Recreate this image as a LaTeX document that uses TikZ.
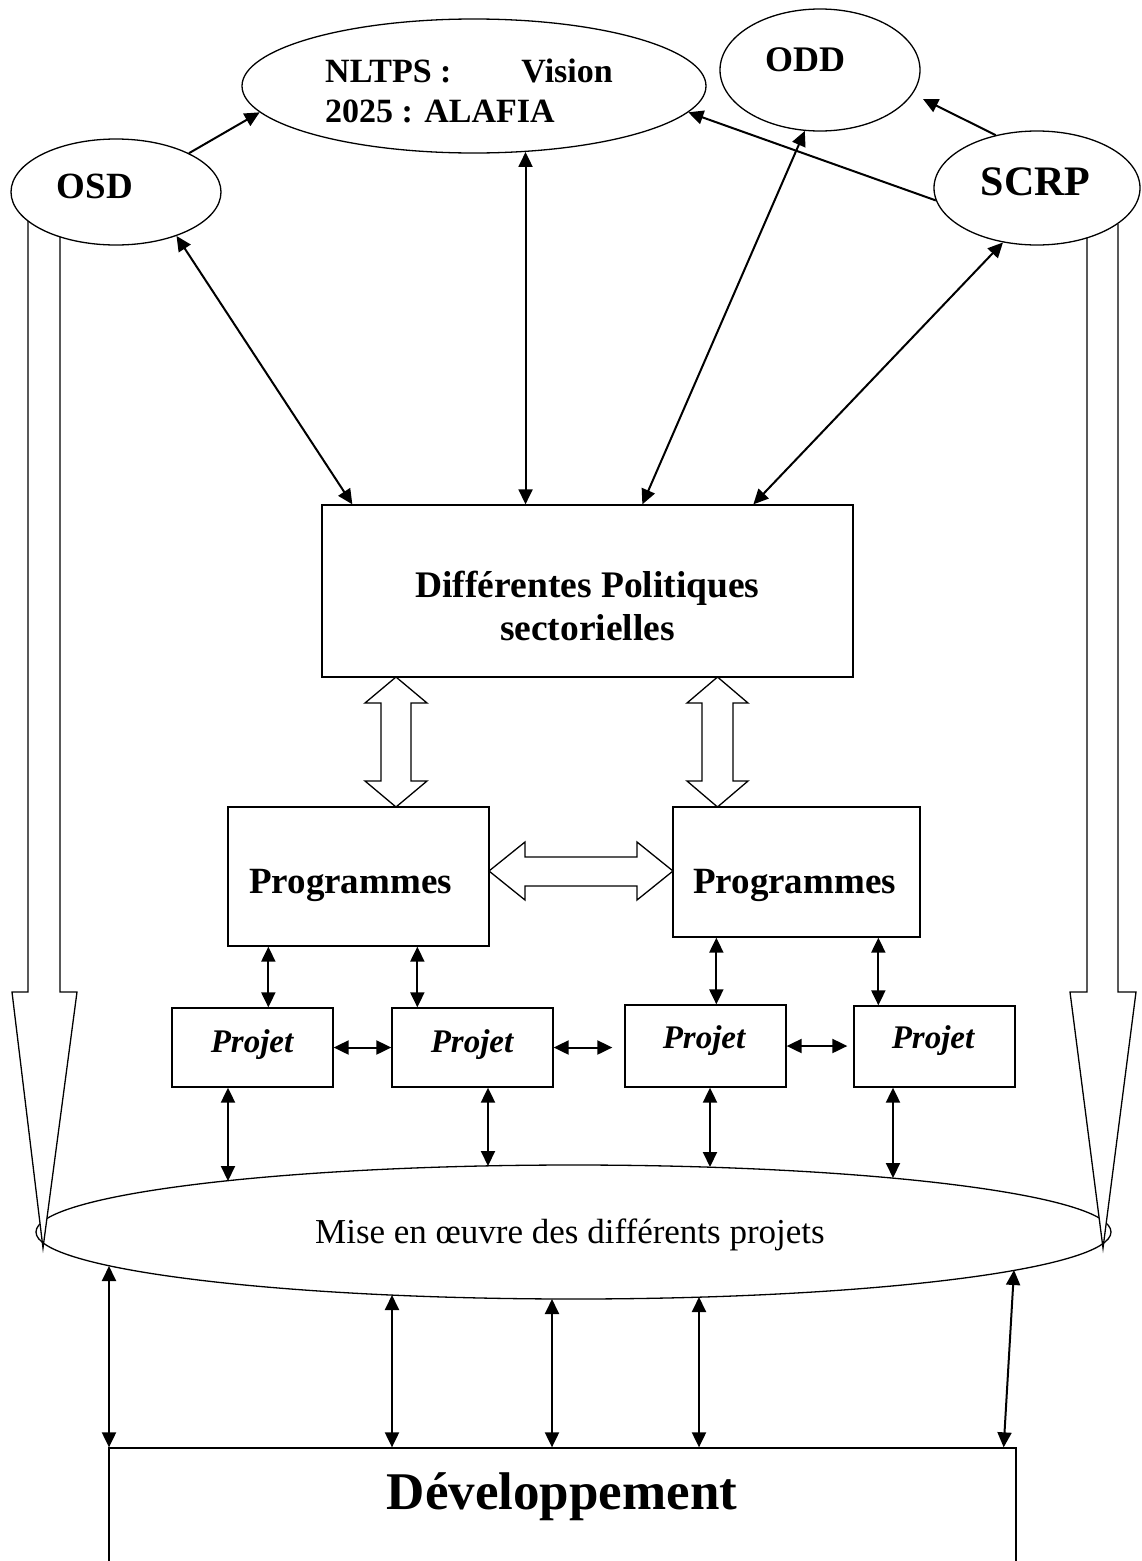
\documentclass[tikz,border=0pt]{standalone}
\usepackage{fontspec}
\setmainfont{Liberation Serif}
\usetikzlibrary{arrows.meta,calc,shapes.geometric}
\begin{document}
\begin{tikzpicture}[x=1pt,y=-1pt,
  ell/.style={ellipse, draw, line width=1.3pt, inner sep=0pt},
  box/.style={rectangle, draw, line width=1.3pt, inner sep=0pt},
  conn/.style={line width=2pt, {Triangle[length=15pt,width=14pt]}-{Triangle[length=15pt,width=14pt]}},
  oneway/.style={line width=2pt, -{Triangle[length=15pt,width=14pt]}},
  hollow/.style={draw, fill=white, line width=1.3pt, line join=miter},
  lbl/.style={inner sep=0pt, anchor=base},
  lblw/.style={inner sep=0pt, anchor=base west},
]
\useasboundingbox (0,0) rectangle (1141,1561);
\clip (0,0) rectangle (1141,1561);

% ---- nodes (shapes)
\node[ell, minimum width=464pt, minimum height=134pt] (nltps) at (474,86) {};
\node[ell, minimum width=200pt, minimum height=122pt] (odd) at (820,70) {};
\node[ell, minimum width=210pt, minimum height=106pt] (osd) at (116,192) {};
\node[ell, minimum width=206pt, minimum height=114pt] (scrp) at (1037,188) {};
\node[box, minimum width=531pt, minimum height=172pt] (pol) at (587.5,591) {};
\node[box, minimum width=261pt, minimum height=139pt] (prog1) at (358.5,876.5) {};
\node[box, minimum width=247pt, minimum height=130pt] (prog2) at (796.5,872) {};
\node[box, minimum width=161pt, minimum height=79pt] (proj1) at (252.5,1047.5) {};
\node[box, minimum width=161pt, minimum height=79pt] (proj2) at (472.5,1047.5) {};
\node[box, minimum width=161pt, minimum height=82pt] (proj3) at (705.5,1046) {};
\node[box, minimum width=161pt, minimum height=81pt] (proj4) at (934.5,1046.5) {};
\node[ell, minimum width=1075pt, minimum height=134pt] (mise) at (573.5,1232) {};
\node[box, minimum width=907pt, minimum height=152pt] (dev) at (562.5,1524) {};

% ---- texts
\node[lblw, font=\fontsize{34}{38}\selectfont\bfseries] (t1) at (325,82) {NLTPS :\hspace{70pt}Vision};
\node[lblw, font=\fontsize{34}{38}\selectfont\bfseries] (t2) at (325,122) {2025 : ALAFIA};
\node[lbl, font=\fontsize{36}{40}\selectfont\bfseries] (t3) at (805,71) {ODD};
\node[lbl, font=\fontsize{37}{40}\selectfont\bfseries] (t4) at (95,198) {OSD};
\node[lbl, font=\fontsize{42}{46}\selectfont\bfseries] (t5) at (1035.5,195) {SCRP};
\node[lbl, font=\fontsize{37.5}{40}\selectfont\bfseries] (t6) at (587.5,597) {Différentes Politiques};
\node[lbl, font=\fontsize{37.5}{40}\selectfont\bfseries] (t7) at (587.5,640) {sectorielles};
\node[lbl, font=\fontsize{37}{40}\selectfont\bfseries] (t8) at (350.5,893) {Programmes};
\node[lbl, font=\fontsize{37}{40}\selectfont\bfseries] (t9) at (794.5,893) {Programmes};
\node[lbl, font=\fontsize{33}{36}\selectfont\bfseries\itshape] (t10) at (252,1052) {Projet};
\node[lbl, font=\fontsize{33}{36}\selectfont\bfseries\itshape] (t11) at (472,1052) {Projet};
\node[lbl, font=\fontsize{33}{36}\selectfont\bfseries\itshape] (t12) at (704,1048) {Projet};
\node[lbl, font=\fontsize{33}{36}\selectfont\bfseries\itshape] (t13) at (933,1048) {Projet};
\node[lbl, font=\fontsize{35}{38}\selectfont] (t14) at (570,1243) {Mise en œuvre des différents projets};
\node[lbl, font=\fontsize{53}{58}\selectfont\bfseries] (t15) at (562,1509) {Développement};

% ---- big hollow side arrows
\fill[white] (12,992) -- (43,1248) -- (77,992) -- cycle;
\draw[line width=1.3pt, line join=miter] (28,221) -- (28,992) -- (12,992) -- (43,1248) -- (77,992) -- (60,992) -- (60,237);
\fill[white] (1070,992) -- (1103,1248) -- (1136,992) -- cycle;
\draw[line width=1.3pt, line join=miter] (1118,224) -- (1118,992) -- (1136,992) -- (1103,1248) -- (1070,992) -- (1087,992) -- (1087,238);

% ---- hollow double block arrows
\draw[hollow] (396,677) -- (427,703) -- (411,703) -- (411,781) -- (427,781) -- (396,807) -- (365,781) -- (381,781) -- (381,703) -- (365,703) -- cycle;
\draw[hollow] (717.5,677) -- (748,703) -- (733,703) -- (733,781) -- (748,781) -- (717.5,807) -- (687,781) -- (702,781) -- (702,703) -- (687,703) -- cycle;
\draw[hollow] (489,871) -- (525,842) -- (525,857) -- (637,857) -- (637,842) -- (673,871) -- (637,900) -- (637,886) -- (525,886) -- (525,900) -- cycle;

% ---- top connectors
\draw[oneway] (osd.28.4) -- (nltps.187.4);
\draw[oneway] (scrp.187.2) -- (nltps.-7.2);
\coordinate (oddtip) at (923,99);
\draw[oneway] (scrp.128.3) -- (oddtip);
\draw[conn] (osd.-36.1) -- ($(pol.north west)+(31,0)$);
\draw[conn] (nltps.-52.6) -- (nltps.-52.6 |- pol.north);
\draw[conn] (odd.-104.7) -- ($(pol.north west)+(321,0)$);
\draw[conn] (scrp.-122.3) -- ($(pol.north west)+(432,0)$);

% ---- programmes -> projets
\draw[conn] ($(prog1.south west)+(41,0)$) -- ($(proj1.north west)+(97,0)$);
\draw[conn] ($(prog1.south west)+(190,0)$) -- ($(proj2.north west)+(26,0)$);
\draw[conn] ($(prog2.south west)+(44,0)$) -- ($(proj3.north west)+(92,0)$);
\draw[conn] ($(prog2.south west)+(206,0)$) -- ($(proj4.north west)+(25,0)$);

% ---- projets horizontal
\draw[conn] (proj1.east) -- (proj2.west);
\draw[conn, shorten >=12pt] (proj2.east) -- (proj2.east -| proj3.west);
\draw[conn, shorten >=6pt] (proj3.east) -- (proj3.east -| proj4.west);

% ---- points on the "Mise en oeuvre" ellipse
\coordinate (m1) at ($(mise.center)+(-345.5,-51)$);
\coordinate (m2) at ($(mise.center)+(-85.5,-66)$);
\coordinate (m3) at ($(mise.center)+(136.5,-65)$);
\coordinate (m4) at ($(mise.center)+(319.5,-54)$);
\coordinate (b1) at ($(mise.center)+(-464.5,34)$);
\coordinate (b2) at ($(mise.center)+(-181.5,63)$);
\coordinate (b3) at ($(mise.center)+(-21.5,67)$);
\coordinate (b4) at ($(mise.center)+(125.5,65)$);
\coordinate (b5) at ($(mise.center)+(440.5,38)$);

% ---- projets -> mise en oeuvre
\draw[conn] (m1 |- proj1.south) -- (m1);
\draw[conn] (m2 |- proj2.south) -- (m2);
\draw[conn] (m3 |- proj3.south) -- (m3);
\draw[conn] (m4 |- proj4.south) -- (m4);

% ---- mise en oeuvre -> developpement
\draw[conn] (b1) -- (b1 |- dev.north);
\draw[conn] (b2) -- (b2 |- dev.north);
\draw[conn] (b3) -- (b3 |- dev.north);
\draw[conn] (b4) -- (b4 |- dev.north);
\draw[conn] (b5) -- ($(dev.north east)+(-13,0)$);
\end{tikzpicture}
\end{document}
